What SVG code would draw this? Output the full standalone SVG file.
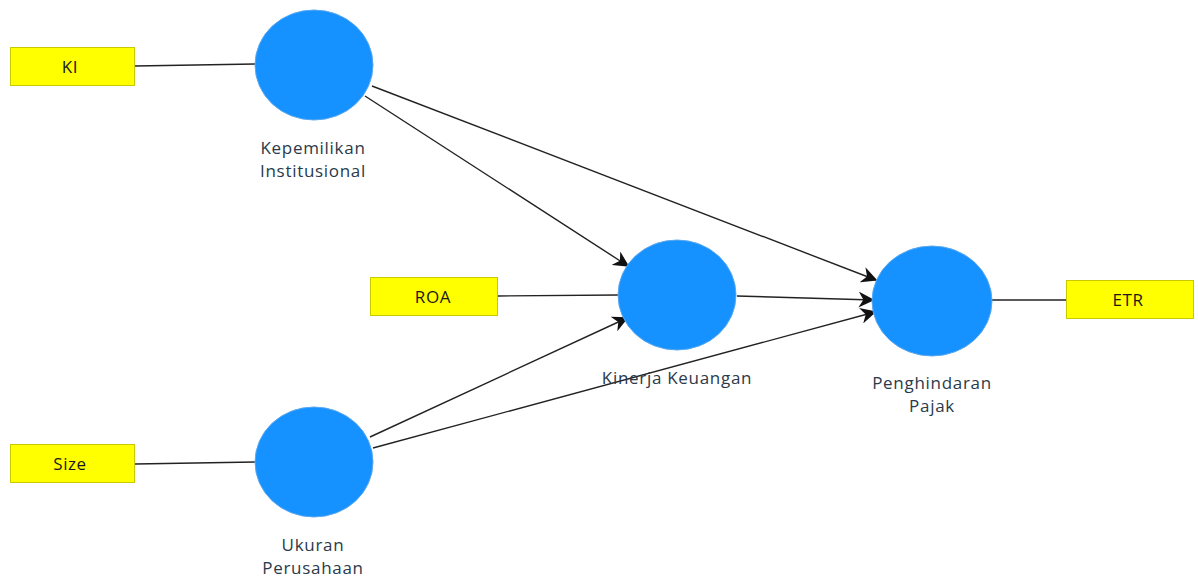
<svg xmlns="http://www.w3.org/2000/svg" width="1198" height="579" viewBox="0 0 1198 579">
<style>
.box{fill:#ffff00;stroke:#c9c900;stroke-width:1}
.lv{fill:#1592ff;stroke:#5aa8f0;stroke-width:1}
.bt{font-family:"Open Sans","DejaVu Sans",sans-serif;font-size:17px;letter-spacing:0.6px;fill:#1a1a1a;text-anchor:middle}
.lt{font-family:"Open Sans","DejaVu Sans",sans-serif;font-size:17px;letter-spacing:0.7px;fill:#2a3a4a;text-anchor:middle}
.e{stroke:#222;stroke-width:1.4;fill:none}
</style>
<defs>
<marker id="ahl" viewBox="0 0 10 10" refX="9" refY="5" markerWidth="16" markerHeight="16" markerUnits="userSpaceOnUse" orient="auto">
<path d="M0,0 L10,5 L0,10 L3,5 Z" fill="#111"/>
</marker>
</defs>
<rect width="1198" height="579" fill="#fff"/>
<g id="connectors">
<line class="e" x1="135" y1="66" x2="255" y2="64"/>
<line class="e" x1="135" y1="464" x2="255" y2="462"/>
<line class="e" x1="498" y1="296" x2="618" y2="295"/>
<line class="e" x1="992" y1="300" x2="1066" y2="300"/>
<line class="e" x1="365" y1="96" x2="628" y2="266" marker-end="url(#ahl)"/>
<line class="e" x1="372" y1="86" x2="876" y2="280" marker-end="url(#ahl)"/>
<line class="e" x1="737" y1="296" x2="873" y2="300" marker-end="url(#ahl)"/>
<line class="e" x1="370" y1="437" x2="627" y2="318" marker-end="url(#ahl)"/>
<line class="e" x1="373" y1="448" x2="875" y2="312" marker-end="url(#ahl)"/>
</g>
<g id="KI"><rect class="box" x="10.5" y="47.5" width="124" height="38"/><text class="bt" x="70" y="73">KI</text></g>
<g id="ROA"><rect class="box" x="370.5" y="277.5" width="127" height="38"/><text class="bt" x="433" y="303">ROA</text></g>
<g id="Size"><rect class="box" x="10.5" y="444.5" width="124" height="38"/><text class="bt" x="70" y="470">Size</text></g>
<g id="ETR"><rect class="box" x="1066.5" y="280.5" width="127" height="38"/><text class="bt" x="1128" y="306">ETR</text></g>
<g id="KepemilikanInstitusional"><ellipse class="lv" cx="314" cy="65" rx="59" ry="55"/><text class="lt" x="313" y="154">Kepemilikan</text><text class="lt" x="313" y="177">Institusional</text></g>
<g id="KinerjaKeuangan"><ellipse class="lv" cx="677" cy="295" rx="59" ry="55"/><text class="lt" x="677" y="384">Kinerja Keuangan</text></g>
<g id="PenghindaranPajak"><ellipse class="lv" cx="932" cy="301" rx="60" ry="55"/><text class="lt" x="932" y="389">Penghindaran</text><text class="lt" x="932" y="412">Pajak</text></g>
<g id="UkuranPerusahaan"><ellipse class="lv" cx="314" cy="462" rx="59" ry="55"/><text class="lt" x="313" y="551">Ukuran</text><text class="lt" x="313" y="574">Perusahaan</text></g>
</svg>
